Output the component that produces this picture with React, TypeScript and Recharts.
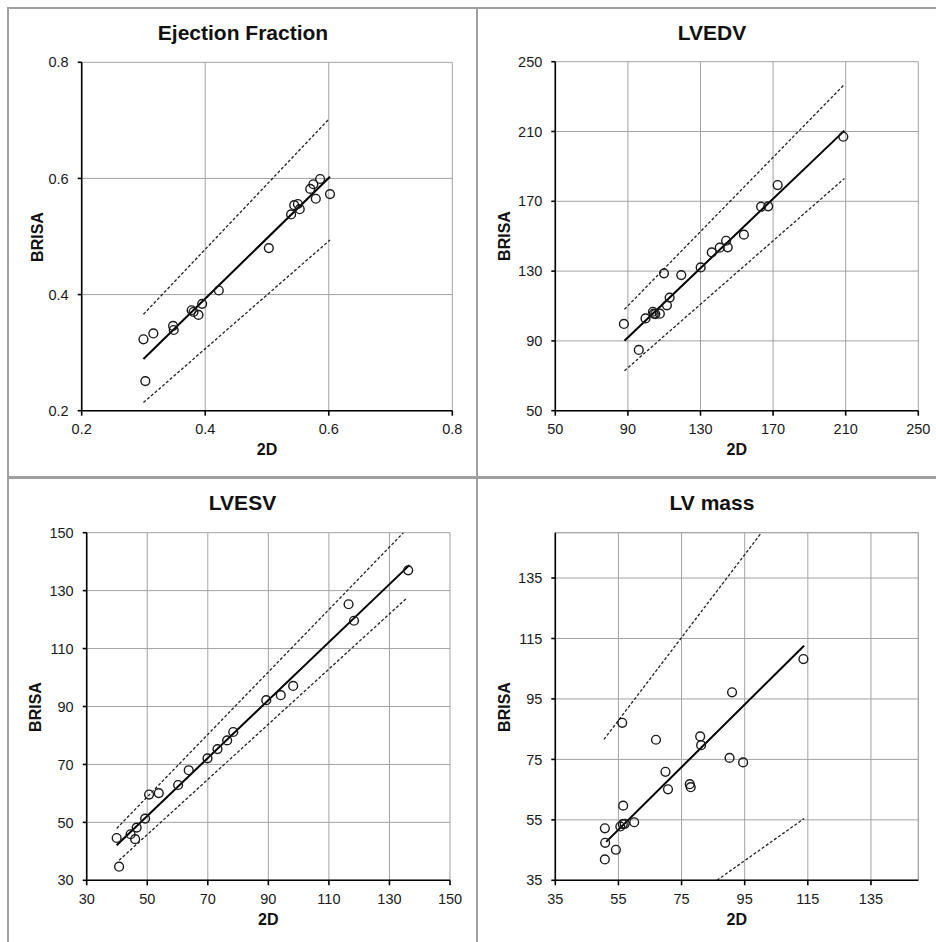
import React from 'react';
import { ScatterChart, Scatter, XAxis, YAxis, CartesianGrid, ReferenceLine } from 'recharts';

// ---------- Ejection Fraction ----------
const efX = [0.300, 0.316, 0.303, 0.348, 0.349, 0.378, 0.381, 0.389, 0.395, 0.422, 0.503, 0.539, 0.544, 0.550, 0.553, 0.570, 0.575, 0.586, 0.579, 0.602];
const efY = [0.323, 0.333, 0.251, 0.346, 0.339, 0.373, 0.370, 0.365, 0.384, 0.407, 0.480, 0.538, 0.554, 0.556, 0.547, 0.582, 0.590, 0.599, 0.565, 0.573];
const efFitX = [0.300, 0.602];
const efFitY = [0.289, 0.603];
const efUpX = [0.300, 0.601];
const efUpY = [0.366, 0.703];
const efLoX = [0.300, 0.602];
const efLoY = [0.214, 0.494];
const efTicks = [0.2, 0.4, 0.6, 0.8];

// ---------- LVEDV ----------
const edvX = [87.8, 96.0, 99.7, 103.8, 104.3, 105.1, 107.6, 109.9, 111.5, 113.0, 119.4, 130.1, 136.2, 140.6, 144.1, 145.0, 153.9, 163.4, 167.3, 172.5, 208.7];
const edvY = [99.7, 84.8, 102.9, 106.7, 105.6, 105.4, 105.6, 128.7, 110.4, 114.8, 127.7, 132.1, 140.7, 143.4, 147.4, 143.6, 150.9, 166.9, 167.1, 179.3, 207.0];
const edvFitX = [88.1, 209.3];
const edvFitY = [90.1, 210.5];
const edvUpX = [88.1, 209.3];
const edvUpY = [108.1, 237.0];
const edvLoX = [88.1, 209.3];
const edvLoY = [72.9, 183.1];
const edvTicks = [50, 90, 130, 170, 210, 250];

// ---------- LVESV ----------
const esvX = [39.9, 40.7, 44.5, 46.0, 46.5, 49.3, 50.6, 53.8, 60.2, 63.7, 69.9, 73.2, 76.4, 78.4, 89.3, 94.1, 98.2, 116.5, 118.3, 136.2];
const esvY = [44.6, 34.7, 45.9, 44.2, 48.2, 51.3, 59.6, 60.1, 62.9, 68.0, 72.1, 75.3, 78.3, 81.2, 92.2, 93.9, 97.1, 125.3, 119.6, 137.0];
const esvFitX = [39.9, 136.6];
const esvFitY = [42.1, 138.8];
const esvUpX = [39.9, 134.6];
const esvUpY = [47.9, 150.0];
const esvLoX = [40.7, 135.9];
const esvLoY = [36.9, 127.6];
const esvTicks = [30, 50, 70, 90, 110, 130, 150];

// ---------- LV mass ----------
const massX = [50.7, 50.8, 50.7, 54.2, 55.6, 56.4, 57.0, 56.5, 56.2, 60.0, 66.9, 69.9, 70.7, 77.6, 77.9, 80.9, 81.2, 90.2, 91.0, 94.5, 113.6];
const massY = [52.2, 47.4, 41.9, 45.1, 52.8, 53.6, 53.7, 59.7, 87.1, 54.2, 81.5, 70.9, 65.1, 66.8, 65.8, 82.6, 79.7, 75.5, 97.2, 74.0, 108.2];
const massFitX = [51.1, 113.8];
const massFitY = [47.7, 112.6];
const massUpX = [50.4, 100.3];
const massUpY = [81.6, 150.0];
const massLoX = [86.2, 113.8];
const massLoY = [35.0, 55.4];
const massTicks = [35, 55, 75, 95, 115, 135];
const massMax = 150;

const zip = (xs: number[], ys: number[]) => xs.map((x, i) => ({ x, y: ys[i] }));

const FONT = '"Liberation Sans", Arial, sans-serif';
const GRID = '#a3a3a3';

const Circle = (p: any) => (
  <circle cx={p.cx} cy={p.cy} r={4.4} fill="none" stroke="#1a1a1a" strokeWidth={1.4} />
);
const NoShape = () => <g />;

type Rect = { l: number; t: number; r: number; b: number };
type Box = { x: number; y: number; w: number; h: number };

const XH = 30;
const YW = 40;

function Panel(props: {
  box: Box;
  plot: Rect;
  domain: [number, number];
  ticks: number[];
  fmt?: (v: number) => string;
  pts: { x: number; y: number }[];
  fit: { x: number; y: number }[];
  up: { x: number; y: number }[];
  lo: { x: number; y: number }[];
  edgeLines?: boolean;
}) {
  const { box, plot, domain, ticks, fmt, pts, fit, up, lo, edgeLines } = props;
  const margin = {
    top: plot.t - box.y,
    right: box.x + box.w - plot.r,
    bottom: box.y + box.h - plot.b - XH,
    left: plot.l - box.x - YW,
  };
  const tickStyle = { fontSize: 14.5, fill: '#1a1a1a', fontFamily: FONT };
  const dash = { stroke: '#222', strokeWidth: 1.3, strokeDasharray: '3 2' };
  return (
    <div style={{ position: 'absolute', left: box.x, top: box.y, width: box.w, height: box.h }}>
      <ScatterChart width={box.w} height={box.h} margin={margin}>
        <CartesianGrid stroke={GRID} strokeWidth={1} />
        <XAxis
          type="number"
          dataKey="x"
          domain={domain}
          ticks={ticks}
          allowDataOverflow
          height={XH}
          tick={tickStyle}
          tickFormatter={fmt}
          stroke="#000"
          strokeWidth={1.6}
          tickSize={5}
          tickMargin={8}
          interval={0}
        />
        <YAxis
          type="number"
          dataKey="y"
          domain={domain}
          ticks={ticks}
          allowDataOverflow
          width={YW}
          tick={tickStyle}
          tickFormatter={fmt}
          stroke="#000"
          strokeWidth={1.6}
          tickSize={4}
          tickMargin={9}
          interval={0}
        />
        {edgeLines && <ReferenceLine y={domain[1]} stroke={GRID} strokeWidth={1} />}
        {edgeLines && <ReferenceLine x={domain[1]} stroke={GRID} strokeWidth={1} />}
        <Scatter data={up} shape={NoShape} line={dash} isAnimationActive={false} />
        <Scatter data={lo} shape={NoShape} line={dash} isAnimationActive={false} />
        <Scatter data={fit} shape={NoShape} line={{ stroke: '#000', strokeWidth: 2 }} isAnimationActive={false} />
        <Scatter data={pts} shape={Circle} isAnimationActive={false} />
      </ScatterChart>
    </div>
  );
}

const Title = ({ text, cx, cy }: { text: string; cx: number; cy: number }) => (
  <div
    style={{
      position: 'absolute', left: cx - 150, width: 300, top: cy - 0.49 * 21, height: 21,
      lineHeight: '21px', fontSize: 21, fontWeight: 'bold', textAlign: 'center', fontFamily: FONT, color: '#111',
    }}
  >
    {text}
  </div>
);

const XLabel = ({ cx, cy }: { cx: number; cy: number }) => (
  <div
    style={{
      position: 'absolute', left: cx - 50, width: 100, top: cy - 0.49 * 16, height: 16,
      lineHeight: '16px', fontSize: 16, fontWeight: 'bold', textAlign: 'center', fontFamily: FONT, color: '#111',
    }}
  >
    2D
  </div>
);

const YLabel = ({ cx, cy }: { cx: number; cy: number }) => (
  <div
    style={{
      position: 'absolute', left: cx - 50, width: 100, top: cy - 8, height: 16,
      lineHeight: '16px', fontSize: 16, fontWeight: 'bold', textAlign: 'center', fontFamily: FONT, color: '#111',
      transform: 'rotate(-90deg)', transformOrigin: '50% 50%',
    }}
  >
    BRISA
  </div>
);

const Line = ({ l, t, w, h }: { l: number; t: number; w: number; h: number }) => (
  <div style={{ position: 'absolute', left: l, top: t, width: w, height: h, background: '#a0a0a0' }} />
);

export default function App() {
  const p1: Rect = { l: 81.7, r: 452.3, t: 62.3, b: 410.7 };
  const p2: Rect = { l: 555.3, r: 918.3, t: 61.7, b: 410.7 };
  const p3: Rect = { l: 86.7, r: 450, t: 532.7, b: 880.3 };
  const p4: Rect = { l: 555.3, r: 918.3, t: 532.7, b: 880.3 };
  return (
    <div style={{ position: 'absolute', left: 0, top: 0, width: 936, height: 942, background: '#fff', overflow: 'hidden' }}>
      <Line l={7} t={7} w={929} h={2} />
      <Line l={7} t={7} w={2} h={935} />
      <Line l={476} t={7} w={2} h={935} />
      <Line l={7} t={476} w={929} h={2.5} />

      <Panel box={{ x: 9, y: 9, w: 467, h: 467 }} plot={p1} domain={[0.2, 0.8]} ticks={efTicks}
        fmt={(v) => v.toFixed(1)} pts={zip(efX, efY)} fit={zip(efFitX, efFitY)} up={zip(efUpX, efUpY)} lo={zip(efLoX, efLoY)} />
      <Panel box={{ x: 478, y: 9, w: 458, h: 467 }} plot={p2} domain={[50, 250]} ticks={edvTicks}
        pts={zip(edvX, edvY)} fit={zip(edvFitX, edvFitY)} up={zip(edvUpX, edvUpY)} lo={zip(edvLoX, edvLoY)} />
      <Panel box={{ x: 9, y: 479, w: 467, h: 463 }} plot={p3} domain={[30, 150]} ticks={esvTicks}
        pts={zip(esvX, esvY)} fit={zip(esvFitX, esvFitY)} up={zip(esvUpX, esvUpY)} lo={zip(esvLoX, esvLoY)} />
      <Panel box={{ x: 478, y: 479, w: 458, h: 463 }} plot={p4} domain={[35, massMax]} ticks={massTicks} edgeLines
        pts={zip(massX, massY)} fit={zip(massFitX, massFitY)} up={zip(massUpX, massUpY)} lo={zip(massLoX, massLoY)} />

      <Title text="Ejection Fraction" cx={243} cy={32.5} />
      <Title text="LVEDV" cx={712} cy={32.5} />
      <Title text="LVESV" cx={242.5} cy={502} />
      <Title text="LV mass" cx={712} cy={502} />

      <XLabel cx={267} cy={449.5} />
      <XLabel cx={736.8} cy={450} />
      <XLabel cx={268.3} cy={919.4} />
      <XLabel cx={736.8} cy={919.4} />

      <YLabel cx={37.5} cy={236.5} />
      <YLabel cx={505} cy={236.2} />
      <YLabel cx={36} cy={706.5} />
      <YLabel cx={505} cy={706.5} />
    </div>
  );
}
